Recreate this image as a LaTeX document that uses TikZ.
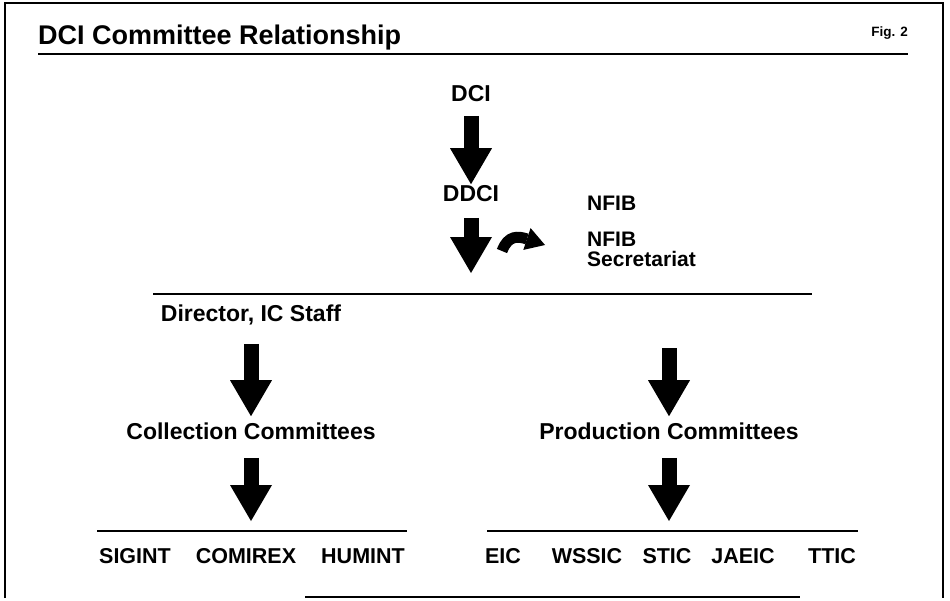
\documentclass[tikz,border=0pt]{standalone}
\usepackage{fontspec}
\setmainfont{Liberation Sans}
\usetikzlibrary{arrows.meta}
\tikzset{
  heading/.style={font=\fontsize{27}{30}\selectfont\bfseries, inner sep=0pt, anchor=west},
  fignum/.style={font=\fontsize{13.5}{16}\selectfont\bfseries, inner sep=0pt, anchor=east},
  unit/.style={font=\fontsize{23}{26}\selectfont\bfseries, inner sep=0pt, text height=0.72em, text depth=0pt},
  member/.style={unit, font=\fontsize{21.5}{24}\selectfont\bfseries},
  side/.style={font=\fontsize{21}{24}\selectfont\bfseries, inner sep=0pt, text height=0.72em, text depth=0pt, anchor=west},
  rule/.style={line width=2pt},
  frame/.style={line width=1.4pt},
  bigarrow/.style={line width=15pt, -{Triangle[width=42pt, length=36pt, line width=0pt]}},
  linkarrow/.style={line width=11pt, -{Triangle[width=23pt, length=19pt, line width=0pt]}}
}
\begin{document}
\begin{tikzpicture}[x=1pt, y=-1pt]
  \useasboundingbox (0,0) rectangle (950,600);
  % border of the plate
  \draw[frame] (5,598) -- (5,3) -- (943,3) -- (943,598);
  \draw[frame] (305,597) -- (800,597);

  \node[heading] (head) at (38,38) {DCI Committee Relationship};
  \node[fignum] (fig) at (908,33) {Fig. 2};
  \draw[rule] (38,54) -- (908,54);

  % top of the chain
  \node[unit] (dci) at (471,98) {DCI};
  \node[unit] (ddci) at (471,198) {DDCI};
  \node[side] (nfib) at (587,207) {NFIB};
  \node[side] (nfibsec) at (587,243) {NFIB};
  \node[side] (nfibsec2) at (587,263) {Secretariat};

  \coordinate (split) at (471,294);
  \coordinate (splitr) at (669,294);
  \coordinate (link) at (502,251);
  \coordinate (linkend) at (545,245);
  \draw[rule] (153,294) -- (812,294);

  \draw[bigarrow, shorten <=14pt, shorten >=10pt] (dci) -- (ddci);
  \draw[bigarrow, shorten <=16pt, shorten >=21pt] (ddci) -- (split);
  \draw[linkarrow] (link) .. controls (508,235) and (518,236) .. (linkend);

  % collection side
  \node[unit] (dir) at (251,318) {Director, IC Staff};
  \node[unit] (coll) at (251,436) {Collection Committees};
  \coordinate (collrule) at (251,531);
  \draw[bigarrow, shorten <=22pt, shorten >=16pt] (dir) -- (coll);
  \draw[bigarrow, shorten <=18pt, shorten >=10pt] (coll) -- (collrule);
  \draw[rule] (97,531) -- (407,531);

  % production side
  \node[unit] (prod) at (669,436) {Production Committees};
  \coordinate (prodrule) at (669,531);
  \draw[bigarrow, shorten <=54pt, shorten >=16pt] (splitr) -- (prod);
  \draw[bigarrow, shorten <=18pt, shorten >=10pt] (prod) -- (prodrule);
  \draw[rule] (487,531) -- (858,531);

  % committees
  \foreach \name/\x in {SIGINT/135, COMIREX/246, HUMINT/363, EIC/503, WSSIC/587, STIC/667, JAEIC/743, TTIC/832}
    \node[member] (\name) at (\x,560) {\name};
\end{tikzpicture}
\end{document}
